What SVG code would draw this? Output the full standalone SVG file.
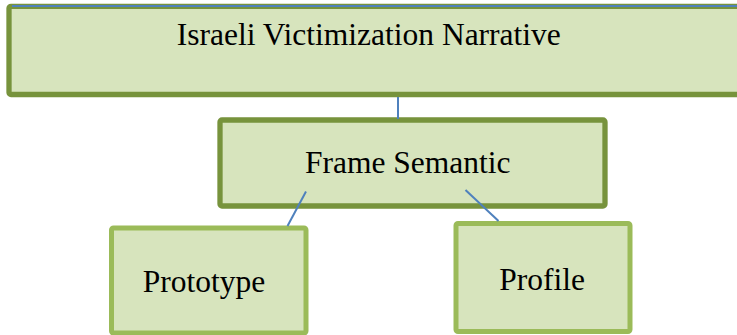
<svg xmlns="http://www.w3.org/2000/svg" width="737" height="335" viewBox="0 0 737 335">
<style>
.box{fill:#d7e4bd;}
.dark{stroke:#77933c;stroke-width:5.3;}
.light{stroke:#9bbb59;stroke-width:5;}
.lbl{font-family:"Liberation Serif","Times New Roman",serif;font-size:31.5px;fill:#000;}
.con{stroke:#4f81bd;stroke-width:2;fill:none;}
</style>
<rect width="737" height="335" fill="#ffffff"/>
<g id="node-israeli">
<rect class="box dark" x="9" y="6.3" width="740" height="88.2" rx="2"/>
<line x1="12" y1="6" x2="737" y2="6" stroke="#4f81bd" stroke-width="1.8"/>
<text class="lbl" x="176.7" y="45">Israeli Victimization Narrative</text>
</g>
<g id="node-frame">
<rect class="box dark" x="220" y="120" width="385" height="86" rx="2"/>
<text class="lbl" x="305" y="173.3">Frame Semantic</text>
</g>
<g id="node-prototype">
<rect class="box light" x="111.5" y="228" width="194.5" height="105" rx="2"/>
<text class="lbl" x="142.7" y="292.3">Prototype</text>
</g>
<g id="node-profile">
<rect class="box light" x="456" y="223.5" width="174" height="108" rx="2"/>
<text class="lbl" x="499.3" y="290">Profile</text>
</g>
<g id="connectors">
<line class="con" x1="398" y1="97" x2="398" y2="119"/>
<line class="con" x1="306" y1="191.5" x2="287.5" y2="226"/>
<line class="con" x1="465.5" y1="190" x2="498.5" y2="221"/>
</g>
</svg>
